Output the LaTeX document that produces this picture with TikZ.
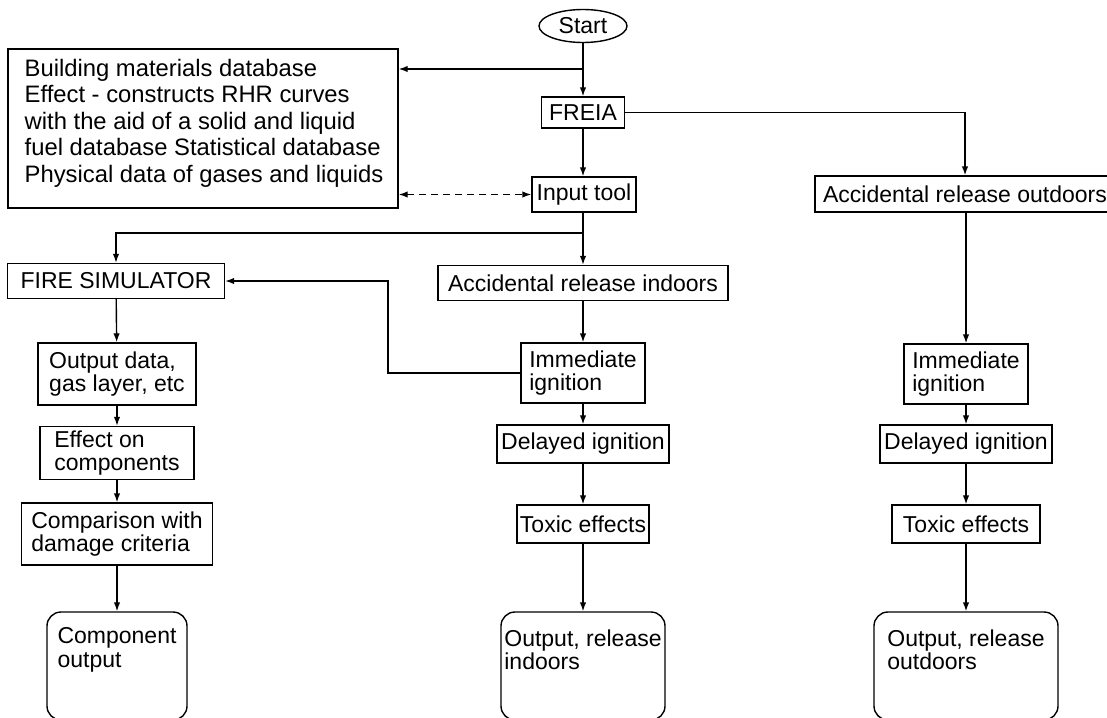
\documentclass[tikz,border=0pt]{standalone}
\usepackage{fontspec}
\setmainfont{Liberation Sans}
\usetikzlibrary{arrows.meta,shapes.geometric}
\begin{document}
\begin{tikzpicture}[x=1pt,y=-1pt,
  every node/.style={font=\fontsize{23}{23.5}\selectfont, inner sep=0pt},
  box/.style={draw, line width=1.4pt, align=left},
  rbox/.style={draw, line width=1.4pt, align=left, rounded corners=14pt},
  conn/.style={line width=1.4pt, -{Latex[length=9pt,width=6.5pt]}},
  dconn/.style={line width=1.4pt, dash pattern=on 7pt off 5pt, {Latex[length=9pt,width=6.5pt]}-{Latex[length=9pt,width=6.5pt]}}]
\useasboundingbox (0,0) rectangle (1107,717);
% nodes
\node[draw, line width=1.4pt, ellipse, minimum width=88pt, minimum height=33pt] (start) at (583,26) {Start};
\node[box, minimum width=390pt, minimum height=159pt] (db) at (203,128.5) {};
\node[align=left, font=\fontsize{23.8}{26.5}\selectfont] (dbtext) at (204,123) {Building materials database\\Effect - constructs RHR curves\\with the aid of a solid and liquid\\fuel database Statistical database\\Physical data of gases and liquids};
\node[box, minimum width=83pt, minimum height=31pt] (freia) at (583,112.5) {FREIA};
\node[box, minimum width=104pt, minimum height=35pt] (input) at (584,194.5) {Input tool};
\node[box, minimum width=300pt, minimum height=36pt] (outd) at (965,194) {Accidental release outdoors};
\node[box, minimum width=217pt, minimum height=35pt] (fire) at (116,281) {FIRE SIMULATOR};
\node[box, minimum width=290pt, minimum height=35pt] (ind) at (583,283) {Accidental release indoors};
\node[box, minimum width=158pt, minimum height=62pt] (outdata) at (117,374) {Output data,\\gas layer, etc};
\node[box, minimum width=124pt, minimum height=60pt] (imm) at (583,373) {Immediate\\ignition};
\node[box, minimum width=124pt, minimum height=60pt] (immr) at (966,374) {Immediate\\ignition};
\node[box, minimum width=154pt, minimum height=53pt] (eff) at (117,453) {Effect on\\components};
\node[box, minimum width=172pt, minimum height=38pt] (del) at (583,444) {Delayed ignition};
\node[box, minimum width=172pt, minimum height=38pt] (delr) at (966,444) {Delayed ignition};
\node[box, minimum width=191pt, minimum height=62pt] (comp) at (117,534) {Comparison with\\damage criteria};
\node[box, minimum width=132pt, minimum height=38pt] (tox) at (583,524) {Toxic effects};
\node[box, minimum width=148pt, minimum height=38pt] (toxr) at (966,524) {Toxic effects};
\node[rbox, minimum width=140pt, minimum height=108pt] (cout) at (117,666) {};
\node[align=left] (couttext) at (117,650) {Component\\output};
\node[rbox, minimum width=164pt, minimum height=108pt] (iout) at (583,666) {};
\node[align=left] (iouttext) at (583,650) {Output, release\\indoors};
\node[rbox, minimum width=184pt, minimum height=108pt] (oout) at (966,666) {};
\node[align=left] (oouttext) at (966,650) {Output, release\\outdoors};
% coordinates
\coordinate (j1) at (583,69);
\coordinate (j2) at (583,233);
\coordinate (fbx) at (388,373);
% connectors
\draw[conn] (start) -- (freia);
\draw[conn] (j1) -- (db.east |- j1);
\draw[conn] (freia.east) -| (outd.north);
\draw[conn] (freia) -- (freia |- input.north);
\draw[dconn] (db.east |- input) -- (input.west);
\draw[conn] (input.south -| freia) -- (ind.north -| freia);
\draw[conn] (j2) -| (fire.north);
\draw[conn] (imm.west) -- (fbx) |- (fire.east);
\draw[conn] (fire) -- (outdata);
\draw[conn] (outdata) -- (eff);
\draw[conn] (eff) -- (comp);
\draw[conn] (comp) -- (cout.north);
\draw[conn] (ind.south -| imm.north) -- (imm);
\draw[conn] (imm) -- (del);
\draw[conn] (del) -- (tox);
\draw[conn] (tox) -- (iout.north -| tox.south);
\draw[conn] (outd.south -| immr.north) -- (immr);
\draw[conn] (immr) -- (delr);
\draw[conn] (delr) -- (toxr);
\draw[conn] (toxr) -- (oout.north -| toxr.south);
\end{tikzpicture}
\end{document}
